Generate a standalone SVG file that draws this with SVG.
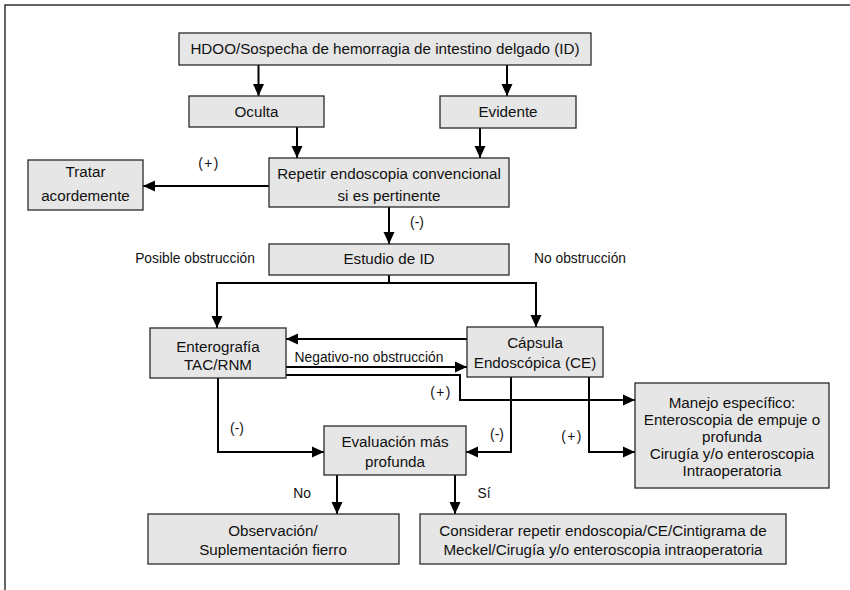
<svg xmlns="http://www.w3.org/2000/svg" width="850" height="590" viewBox="0 0 850 590">
  <defs>
    <marker id="arrow" markerUnits="userSpaceOnUse" markerWidth="12" markerHeight="12" viewBox="0 0 12 12" refX="12" refY="6" orient="auto">
      <path d="M0,0.5 L12,6 L0,11.5 Z" fill="#000"/>
    </marker>
    <style>
      .box { fill: #e6e6e6; stroke: #2a2a2a; stroke-width: 1.3; }
      .t { font-family: "Liberation Sans", Arial, sans-serif; font-size: 15.2px; fill: #111; text-anchor: middle; }
      .lbl { font-family: "Liberation Sans", Arial, sans-serif; font-size: 13.8px; fill: #111; text-anchor: middle; }
      .pm { letter-spacing: 1.5px; }
      .c { fill: none; stroke: #000; stroke-width: 2; }
      .ca { fill: none; stroke: #000; stroke-width: 2; marker-end: url(#arrow); }
      .frame { fill: none; stroke: #333; stroke-width: 1.5; }
    </style>
  </defs>
  <rect width="850" height="590" fill="#fff"/>
  <path class="frame" d="M5,590 V5 H850"/>

  <g id="connectors">
    <path class="ca" d="M258.5,65 V96"/>
    <path class="ca" d="M507,65 V96"/>
    <path class="ca" d="M297,127 V158"/>
    <path class="ca" d="M480,128 V158"/>
    <path class="ca" d="M269,186 H143"/>
    <path class="ca" d="M389,207 V244"/>
    <path class="c" d="M389,275 V283 M216,283 H537"/>
    <path class="ca" d="M217,283 V328"/>
    <path class="ca" d="M536,283 V327"/>
    <path class="ca" d="M467,339 H286"/>
    <path class="ca" d="M286,367 H467"/>
    <path class="ca" d="M286,375 H460 V400 H635"/>
    <path class="ca" d="M218,378 V452 H324"/>
    <path class="ca" d="M511,377 V452 H466"/>
    <path class="ca" d="M589,377 V452 H635"/>
    <path class="ca" d="M337,475 V514"/>
    <path class="ca" d="M455,475 V514"/>
  </g>

  <g id="edge-labels">
    <text class="lbl pm" x="209" y="168">(+)</text>
    <text class="lbl" x="417" y="227">(-)</text>
    <text class="lbl" x="195" y="263">Posible obstrucción</text>
    <text class="lbl" x="580" y="263">No obstrucción</text>
    <text class="lbl" x="369" y="362" font-size="14.2">Negativo-no obstrucción</text>
    <text class="lbl pm" x="441" y="397">(+)</text>
    <text class="lbl" x="237" y="433">(-)</text>
    <text class="lbl" x="497" y="439">(-)</text>
    <text class="lbl pm" x="572" y="441">(+)</text>
    <text class="lbl" x="302" y="498">No</text>
    <text class="lbl" x="484" y="498">Sí</text>
  </g>

  <g id="hdoo">
    <rect class="box" x="179" y="33" width="412" height="32"/>
    <text class="t" x="385" y="54">HDOO/Sospecha de hemorragia de intestino delgado (ID)</text>
  </g>
  <g id="oculta">
    <rect class="box" x="189" y="96" width="135" height="31"/>
    <text class="t" x="256.5" y="117">Oculta</text>
  </g>
  <g id="evidente">
    <rect class="box" x="440" y="96" width="136" height="32"/>
    <text class="t" x="508" y="117">Evidente</text>
  </g>
  <g id="repetir">
    <rect class="box" x="269" y="158" width="240" height="49"/>
    <text class="t" x="389" y="179">Repetir endoscopia convencional</text>
    <text class="t" x="389" y="201">si es pertinente</text>
  </g>
  <g id="tratar">
    <rect class="box" x="28" y="160" width="115" height="50"/>
    <text class="t" x="85.5" y="177">Tratar</text>
    <text class="t" x="85.5" y="201">acordemente</text>
  </g>
  <g id="estudio">
    <rect class="box" x="269" y="244" width="240" height="31"/>
    <text class="t" x="389" y="264">Estudio de ID</text>
  </g>
  <g id="enterografia">
    <rect class="box" x="150" y="328" width="136" height="50"/>
    <text class="t" x="218" y="352">Enterografía</text>
    <text class="t" x="218" y="370">TAC/RNM</text>
  </g>
  <g id="capsula">
    <rect class="box" x="467" y="327" width="136" height="50"/>
    <text class="t" x="535" y="348">Cápsula</text>
    <text class="t" x="535" y="368">Endoscópica (CE)</text>
  </g>
  <g id="evaluacion">
    <rect class="box" x="324" y="426" width="142" height="49"/>
    <text class="t" x="395" y="447">Evaluación más</text>
    <text class="t" x="395" y="467">profunda</text>
  </g>
  <g id="manejo">
    <rect class="box" x="635" y="383" width="194" height="105"/>
    <text class="t" x="732" y="408" font-size="15">Manejo específico:</text>
    <text class="t" x="732" y="425" font-size="15">Enteroscopia de empuje o</text>
    <text class="t" x="732" y="442" font-size="15">profunda</text>
    <text class="t" x="732" y="459" font-size="15">Cirugía y/o enteroscopia</text>
    <text class="t" x="732" y="476" font-size="15">Intraoperatoria</text>
  </g>
  <g id="observacion">
    <rect class="box" x="148" y="514" width="251" height="50"/>
    <text class="t" x="273" y="536">Observación/</text>
    <text class="t" x="273" y="555">Suplementación fierro</text>
  </g>
  <g id="considerar">
    <rect class="box" x="420" y="514" width="366" height="50"/>
    <text class="t" x="603" y="536">Considerar repetir endoscopia/CE/Cintigrama de</text>
    <text class="t" x="603" y="555">Meckel/Cirugía y/o enteroscopia intraoperatoria</text>
  </g>
</svg>
